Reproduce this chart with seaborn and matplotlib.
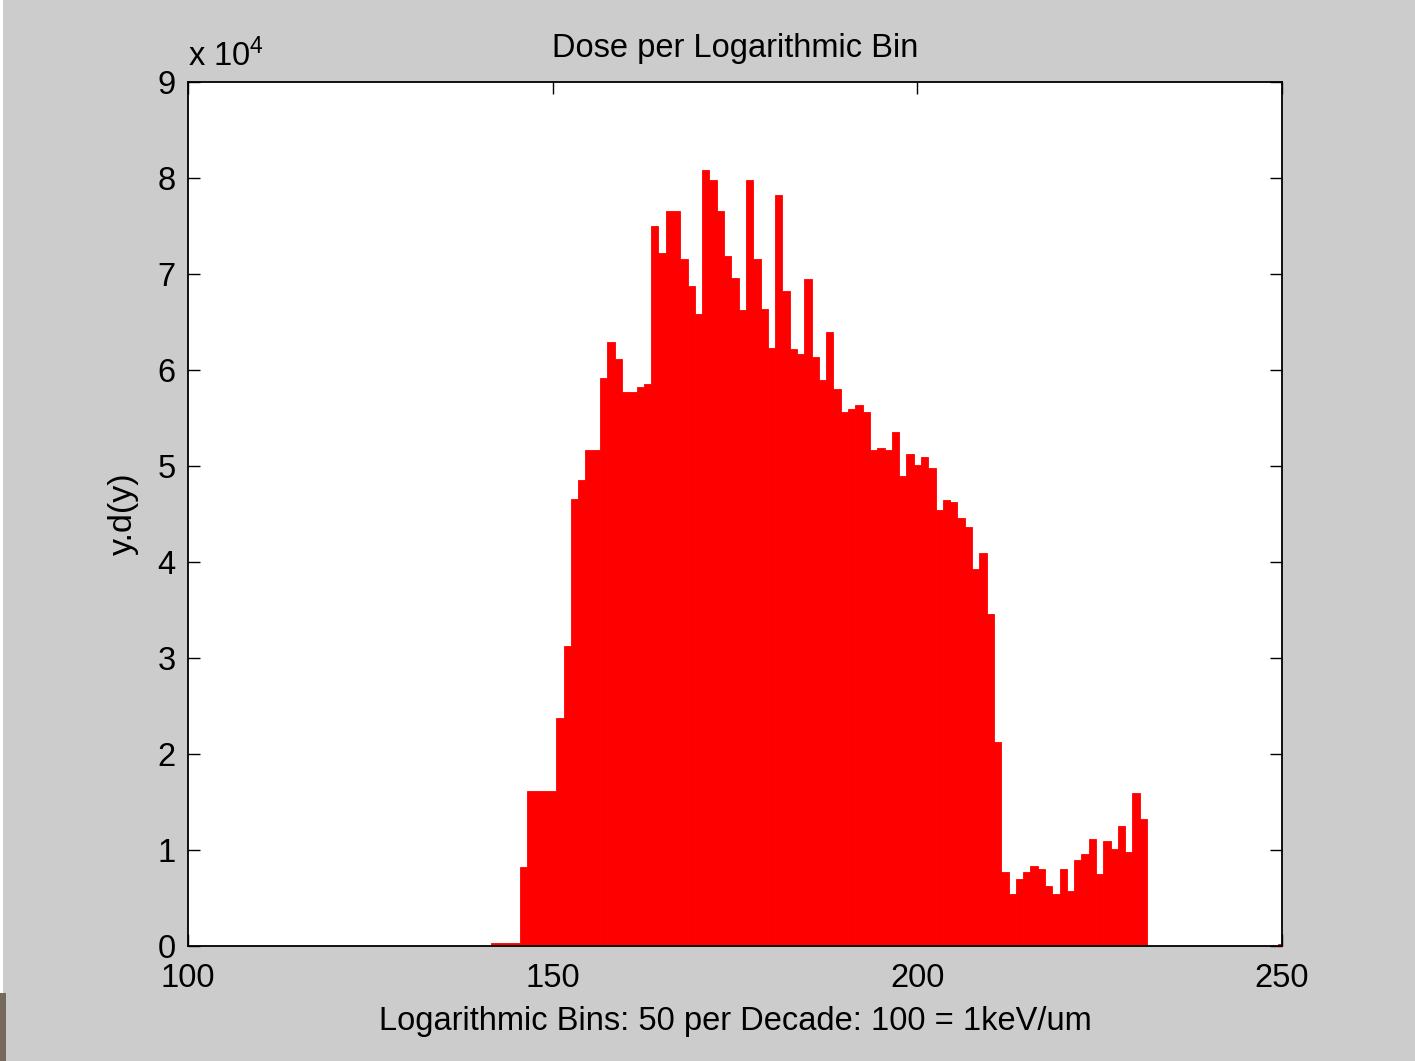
import matplotlib
matplotlib.use("Agg")
import matplotlib.pyplot as plt
from matplotlib.ticker import FuncFormatter, FixedLocator
from matplotlib.patches import Rectangle
import pandas as pd
import seaborn as sns

# Logarithmic bin index (50 bins per decade, 100 = 1 keV/um)
bins = list(range(142, 232)) + [250]

# Dose per bin, y.d(y)
dose = [
    300, 300, 300, 300, 8200,                       # 142-146
    16100, 16100, 16100, 16100, 23800,              # 147-151
    31200, 46600, 48500, 51700, 51700,              # 152-156
    59200, 62900, 61100, 57700, 57700,              # 157-161
    58200, 58500, 75000, 72200, 76600,              # 162-166
    76600, 71600, 68800, 65800, 80800,              # 167-171
    79800, 76600, 71900, 69600, 66200,              # 172-176
    79800, 71600, 66400, 62300, 78200,              # 177-181
    68200, 62200, 61700, 69500, 61400,              # 182-186
    59000, 64000, 58000, 55600, 55900,              # 187-191
    56400, 55600, 51700, 51900, 51700,              # 192-196
    53500, 49000, 51200, 50100, 50900,              # 197-201
    49800, 45400, 46500, 46200, 44600,              # 202-206
    43600, 39300, 40900, 34600, 21200,              # 207-211
    7700, 5400, 7000, 7700, 8300,                   # 212-216
    8000, 6200, 5400, 8000, 5700,                   # 217-221
    9000, 9600, 11100, 7500, 10900,                 # 222-226
    10100, 12500, 9800, 15900, 13200,               # 227-231
    250,                                            # 250
]

x_ticks = [100, 150, 200, 250]
y_ticks = [0, 10000, 20000, 30000, 40000, 50000, 60000, 70000, 80000, 90000]

title = "Dose per Logarithmic Bin"
x_label = "Logarithmic Bins: 50 per Decade: 100 = 1keV/um"
y_label = "y.d(y)"

sns.set_theme(style="ticks")
plt.rcParams["font.family"] = ["Liberation Sans", "DejaVu Sans"]
plt.rcParams["mathtext.default"] = "regular"

FS = 23.5

W, H = 1415, 1061
fig = plt.figure(figsize=(W / 100, H / 100), dpi=100, facecolor="#cccccc")
ax = fig.add_axes([188 / W, 1 - 946 / H, (1282 - 188) / W, (946 - 82) / H])
ax.set_facecolor("white")

df = pd.DataFrame({"bin": bins, "dose": dose})
sns.barplot(data=df, x="bin", y="dose", native_scale=True, width=1.0,
            color="#ff0000", saturation=1, edgecolor="#ff0000",
            linewidth=0.6, errorbar=None, ax=ax)

ax.set_xlim(100, 250)
ax.set_ylim(0, 90000)
ax.xaxis.set_major_locator(FixedLocator(x_ticks))
ax.yaxis.set_major_locator(FixedLocator(y_ticks))
ax.yaxis.set_major_formatter(FuncFormatter(lambda v, p: f"{v / 1e4:g}"))
ax.xaxis.set_major_formatter(FuncFormatter(lambda v, p: f"{v:g}"))

ax.tick_params(axis="both", which="major", direction="in", length=8.5,
               width=1.0, color="black", labelsize=FS, labelcolor="black",
               top=True, right=True)
ax.tick_params(axis="x", pad=12)
ax.tick_params(axis="y", pad=9)
for s in ax.spines.values():
    s.set_visible(True)
    s.set_color("black")
    s.set_linewidth(1.3)

ax.set_title(title, fontsize=FS, color="black", pad=18)
ax.set_xlabel(x_label, fontsize=FS, color="black", labelpad=9)
ax.set_ylabel(y_label, fontsize=FS + 1, color="black", labelpad=13)

# exponent of the y axis scale
ax.text(0.0, (946 - 66) / 864, "x 10$^{4}$", transform=ax.transAxes,
        ha="left", va="baseline", fontsize=FS, color="black")

# window frame edges
fig.patches.append(Rectangle((0, 0), 3 / W, 1, transform=fig.transFigure,
                             facecolor="white", edgecolor="none", zorder=-1))
fig.patches.append(Rectangle((0, 0), 6 / W, (1061 - 993) / H,
                             transform=fig.transFigure,
                             facecolor="#756a5c", edgecolor="none"))

fig.savefig("out.png", dpi=100, facecolor=fig.get_facecolor())
